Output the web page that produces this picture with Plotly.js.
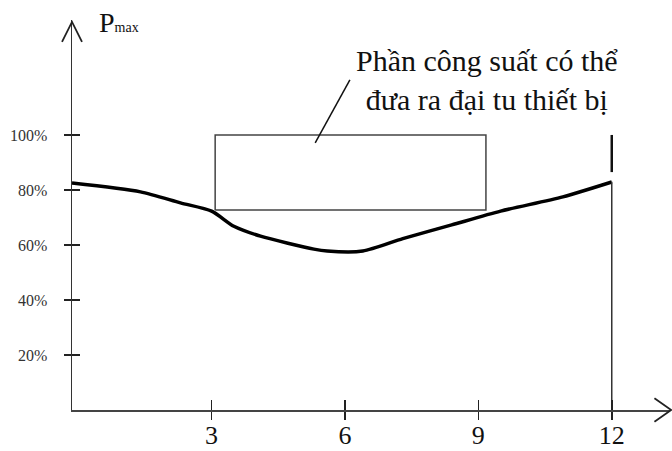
<!DOCTYPE html>
<html>
<head>
<meta charset="utf-8">
<script src="https://cdn.plot.ly/plotly-3.0.1.min.js"></script>
<style>
  html, body { margin: 0; padding: 0; background: #fff; }
  #chart { width: 672px; height: 451px; }
</style>
</head>
<body>
<div id="chart"></div>
<script>
// load curve P_max (%) over the months of the year
const months = [-0.14, 1.4, 2.3, 3.0, 3.5, 4.1, 5.3, 5.6, 6.4, 7.3, 8.4, 9.5, 10.9, 12.0];
const pmax = [82.5, 79.3, 75.3, 72.3, 66.8, 63.2, 58.5, 57.8, 57.8, 62.3, 67.3, 72.3, 77.5, 82.9];

// spare-capacity box (x from..to, y from..to)
const boxX = [3.08, 9.17];
const boxY = [72.7, 100];

// vertical limit at month 12
const limitX = 12;
const limitY = [0, 83, 86.5, 100];

const xTicks = [3, 6, 9, 12];
const xTickText = ['3', '6', '9', '12'];
const yTicks = [20, 40, 60, 80, 100];
const yTickText = ['20%', '40%', '60%', '80%', '100%'];

const xRange = [-0.14, 13.31];
const yRange = [0, 141.8];

const serif = '"Liberation Serif", "Times New Roman", serif';

const data = [
    {
        x: months,
        y: pmax,
        mode: 'lines',
        line: { color: '#000', width: 3.5, shape: 'spline', smoothing: 0.7 },
        hoverinfo: 'skip'
    },
    {
        x: [boxX[0], boxX[0], boxX[1], boxX[1], boxX[0]],
        y: [boxY[0], boxY[1], boxY[1], boxY[0], boxY[0]],
        mode: 'lines',
        line: { color: '#444', width: 1.5 },
        hoverinfo: 'skip'
    },
    {
        x: [limitX, limitX],
        y: [limitY[0], limitY[1]],
        mode: 'lines',
        line: { color: '#333', width: 1.5 },
        hoverinfo: 'skip'
    },
    {
        x: [limitX, limitX],
        y: [limitY[2], limitY[3]],
        mode: 'lines',
        line: { color: '#111', width: 2.5 },
        hoverinfo: 'skip'
    },
    // carrier for the overlay axes that draw the inner half of each tick
    { x: [null], y: [null], xaxis: 'x2', yaxis: 'y2', mode: 'lines', hoverinfo: 'skip' }
];

const layout = {
    width: 672,
    height: 451,
    margin: { l: 72, r: 2, t: 20, b: 41 },
    showlegend: false,
    plot_bgcolor: '#fff',
    paper_bgcolor: '#fff',
    xaxis: {
        range: xRange,
        tickvals: xTicks,
        ticktext: xTickText,
        ticks: 'outside',
        ticklen: 8,
        tickwidth: 1.5,
        tickcolor: '#222',
        showline: true,
        linecolor: '#444',
        linewidth: 1.5,
        showgrid: false,
        zeroline: false,
        ticklabelstandoff: -7,
        tickfont: { family: serif, size: 26, color: '#111' }
    },
    yaxis: {
        range: yRange,
        tickvals: yTicks,
        ticktext: yTickText,
        ticks: 'outside',
        ticklen: 7,
        tickwidth: 1.5,
        tickcolor: '#222',
        showline: true,
        linecolor: '#333',
        linewidth: 1.5,
        showgrid: false,
        zeroline: false,
        ticklabelstandoff: 13,
        tickfont: { family: serif, size: 16, color: '#333' }
    },
    xaxis2: {
        overlaying: 'x',
        anchor: 'y2',
        range: xRange,
        tickvals: xTicks,
        ticks: 'inside',
        ticklen: 10,
        tickwidth: 1.5,
        tickcolor: '#222',
        showticklabels: false,
        showline: false,
        showgrid: false,
        zeroline: false
    },
    yaxis2: {
        overlaying: 'y',
        anchor: 'x2',
        range: yRange,
        tickvals: yTicks,
        ticks: 'inside',
        ticklen: 8,
        tickwidth: 1.5,
        tickcolor: '#222',
        showticklabels: false,
        showline: false,
        showgrid: false,
        zeroline: false
    },
    shapes: [
        // open arrowheads at the ends of both axes
        {
            type: 'path', xref: 'paper', yref: 'paper',
            path: 'M -0.0167 0.944 L 0 0.995 L 0.0167 0.944',
            line: { color: '#222', width: 1.8 }
        },
        {
            type: 'path', xref: 'paper', yref: 'paper',
            path: 'M 0.974 0.03 L 1.002 0 L 0.974 -0.03',
            line: { color: '#222', width: 1.8 }
        },
        // leader line from the label to the box
        {
            type: 'line', xref: 'x', yref: 'y',
            x0: 5.33, y0: 97.1, x1: 6.11, y1: 120,
            line: { color: '#111', width: 1.5 }
        }
    ],
    annotations: [
        {
            xref: 'x', yref: 'y', x: 9.2, y: 120,
            text: 'Phần công suất có thể<br>đưa ra đại tu thiết bị',
            showarrow: false, align: 'center',
            xanchor: 'center', yanchor: 'middle',
            font: { family: serif, size: 30, color: '#111' }
        },
        {
            xref: 'x', yref: 'y', x: 0.42, y: 141,
            text: 'P<span style="font-size:14px">max</span>',
            showarrow: false, xanchor: 'left', yanchor: 'middle',
            font: { family: serif, size: 28, color: '#111' }
        }
    ]
};

Plotly.newPlot('chart', data, layout, { displayModeBar: false, staticPlot: true });
</script>
</body>
</html>
